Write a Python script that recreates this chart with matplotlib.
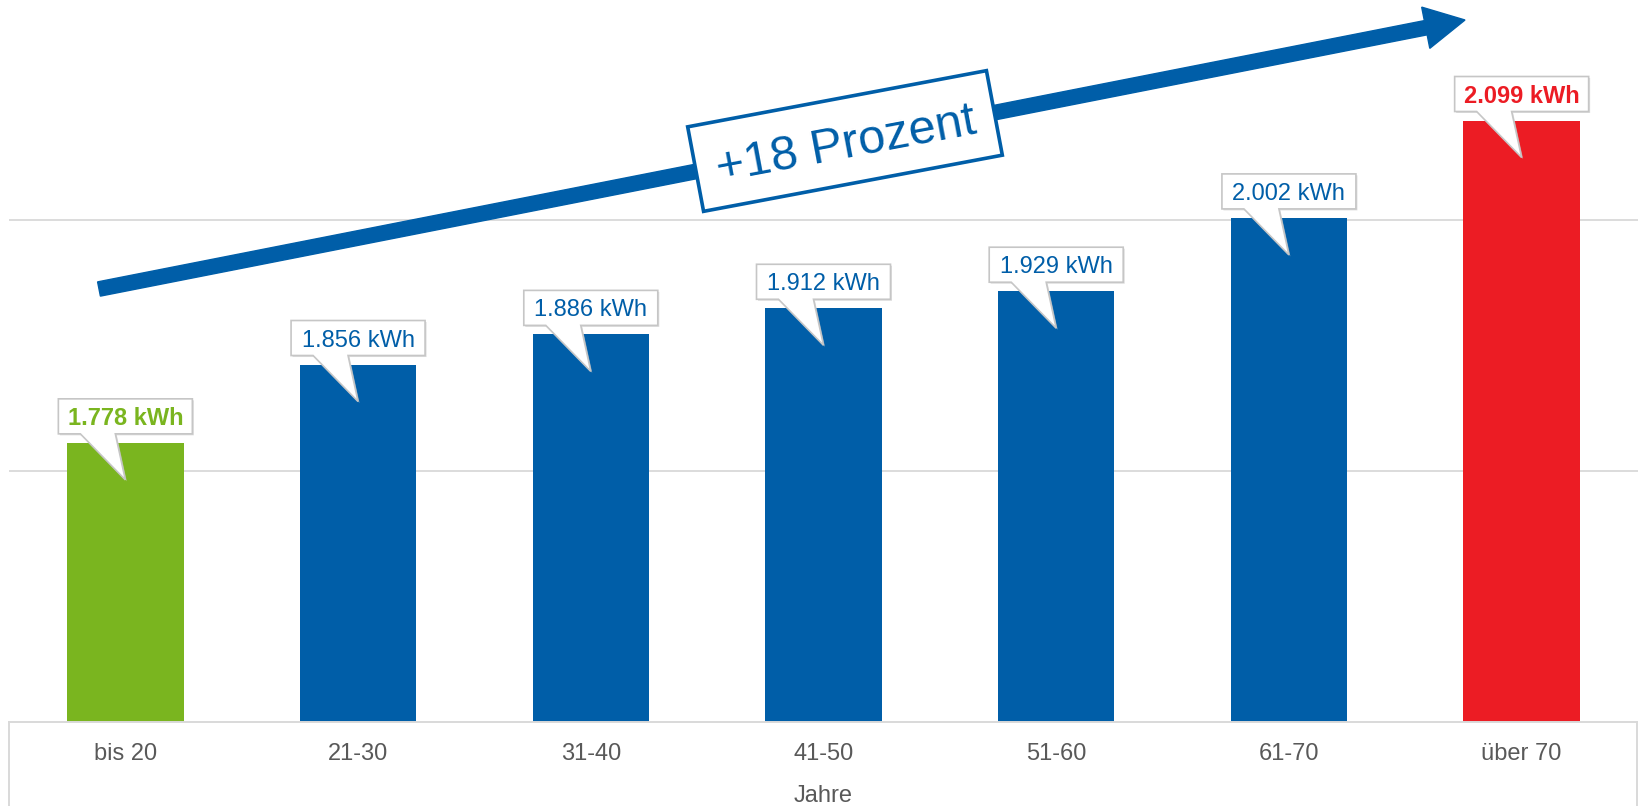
import matplotlib
matplotlib.use('Agg')
import matplotlib.pyplot as plt
import matplotlib.transforms as mtransforms
from matplotlib.patches import Polygon, FancyArrow
from matplotlib import font_manager
import numpy as np

# ---- data ----
categories = ['bis 20', '21-30', '31-40', '41-50', '51-60', '61-70', 'über 70']
values = [1.778, 1.856, 1.886, 1.912, 1.929, 2.002, 2.099]
value_labels = ['1.778 kWh', '1.856 kWh', '1.886 kWh', '1.912 kWh',
                '1.929 kWh', '2.002 kWh', '2.099 kWh']
label_bold = [True, False, False, False, False, False, True]
x_title = 'Jahre'
trend_label = '+18 Prozent'
grid_values = [1.75, 2.0]

BLUE = '#005EA8'
GREEN = '#7AB51F'
RED = '#EC1C24'
bar_colors = [GREEN, BLUE, BLUE, BLUE, BLUE, BLUE, RED]
GRID = '#d9d9d9'
TXT = '#595959'

plt.rcParams['font.family'] = ['Liberation Sans', 'DejaVu Sans']

installed = {f.name for f in font_manager.fontManager.ttflist}
if 'Liberation Sans Narrow' in installed:
    trend_family, trend_size = ['Liberation Sans Narrow', 'Liberation Sans'], 40
else:
    trend_family, trend_size = ['Liberation Sans'], 35

W, H = 1638, 806
fig = plt.figure(figsize=(W / 100, H / 100), dpi=100)
ax = fig.add_axes([9 / W, (H - 722) / H, (W - 9) / W, 722 / H])

x = np.arange(len(categories))
ax.set_xlim(-0.5, 6.5)
ax.set_ylim(1.5, 2.219)
ax.bar(x, values, width=0.5, color=bar_colors, zorder=2)
for g in grid_values:
    ax.axhline(g, color=GRID, lw=1.3, zorder=1)

for s in ['top', 'right', 'left']:
    ax.spines[s].set_visible(False)
ax.spines['bottom'].set_color(GRID)
ax.spines['bottom'].set_linewidth(1.4)
ax.set_xticks([])
ax.set_yticks([])

# category box lines below the axis
for xa in (0.0, 0.9995):
    ax.plot([xa, xa], [0, -84 / 722], transform=ax.transAxes, color=GRID,
            lw=1.4, clip_on=False)

# category labels
for i, c in enumerate(categories):
    ax.annotate(c, xy=(i, 0), xycoords=('data', 'axes fraction'),
                xytext=(0, -37.5), textcoords='offset pixels',
                ha='center', va='baseline', fontsize=17, color=TXT)
ax.annotate(x_title, xy=(0.5, 0), xycoords='axes fraction',
            xytext=(0, -80.5), textcoords='offset pixels',
            ha='center', va='baseline', fontsize=17, color=TXT)

# callout labels
verts = np.array([(-67, 9), (-45, 9), (0, -37), (-10, 9), (67, 9), (67, 44), (-67, 44)], float)
for i, (v, lab, b, col) in enumerate(zip(values, value_labels, label_bold, bar_colors)):
    tr = mtransforms.ScaledTranslation(i, v, ax.transData)
    shadow = Polygon(verts + np.array([1.5, -1.5]), closed=True, facecolor='#c8c8c8',
                     edgecolor='none', alpha=0.6, transform=tr, zorder=3, clip_on=False)
    poly = Polygon(verts, closed=True, facecolor='white', edgecolor='#c6c6c6',
                   lw=1.2, transform=tr, zorder=4, joinstyle='miter', clip_on=False)
    ax.add_artist(shadow)
    ax.add_artist(poly)
    ax.annotate(lab, xy=(i, v), xytext=(0, 18), textcoords='offset pixels',
                ha='center', va='baseline', fontsize=17, color=col,
                fontweight='bold' if b else 'normal', zorder=6,
                annotation_clip=False)

# trend arrow (pixel coordinates, y up)
ident = mtransforms.IdentityTransform()
x0, y0 = 99, H - 289
x1, y1 = 1465, H - 20
arrow = FancyArrow(x0, y0, x1 - x0, y1 - y0, width=14.5, head_width=42, head_length=40,
                   length_includes_head=True, color=BLUE, transform=ident, zorder=3)
fig.add_artist(arrow)

# label box on arrow
cx, cy = 845, H - 141
ang = np.deg2rad(10.65)
R = np.array([[np.cos(ang), -np.sin(ang)], [np.sin(ang), np.cos(ang)]])
bw, bh = 304, 86
corners = np.array([(-bw / 2, -bh / 2), (bw / 2, -bh / 2), (bw / 2, bh / 2), (-bw / 2, bh / 2)])
pts = corners @ R.T + np.array([cx, cy])
box = Polygon(pts, closed=True, facecolor='white', edgecolor=BLUE, lw=2.6,
              transform=ident, zorder=4, joinstyle='miter')
fig.add_artist(box)
cap = trend_size * 100 / 72 * 0.716
tp = np.array([0, -cap / 2]) @ R.T + np.array([cx, cy])
fig.text(tp[0], tp[1], trend_label, transform=ident, rotation=np.rad2deg(ang),
         rotation_mode='anchor', ha='center', va='baseline', fontsize=trend_size,
         family=trend_family, color=BLUE, zorder=5)

fig.savefig('out.png', dpi=100)
